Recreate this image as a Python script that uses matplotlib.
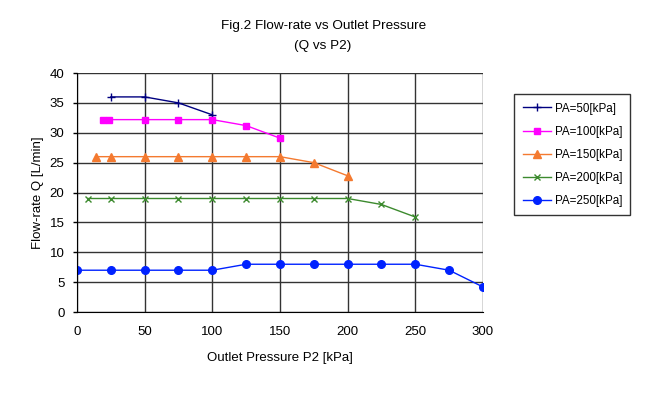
import matplotlib.pyplot as plt

plt.rcParams['font.family'] = ['Liberation Sans', 'DejaVu Sans']

### Data
x_pa50 = [25, 50, 75, 100]
q_pa50 = [36, 36, 35, 33]

x_pa100 = [19, 24, 50, 75, 100, 125, 150]
q_pa100 = [32.2, 32.2, 32.2, 32.2, 32.2, 31.2, 29.1]

x_pa150 = [14, 25, 50, 75, 100, 125, 150, 175, 200]
q_pa150 = [26, 26, 26, 26, 26, 26, 26, 25, 22.8]

x_pa200 = [8, 25, 50, 75, 100, 125, 150, 175, 200, 225, 250]
q_pa200 = [19, 19, 19, 19, 19, 19, 19, 19, 19, 18, 15.9]

x_pa250 = [0, 25, 50, 75, 100, 125, 150, 175, 200, 225, 250, 275, 300]
q_pa250 = [7, 7, 7, 7, 7, 8, 8, 8, 8, 8, 8, 7, 4.2]

labels = ['PA=50[kPa]', 'PA=100[kPa]', 'PA=150[kPa]', 'PA=200[kPa]', 'PA=250[kPa]']

### Plot
fig = plt.figure(figsize=(6.54, 3.94), dpi=100)
ax = fig.add_axes([0.1177, 0.208, 0.6208, 0.6067])

ax.plot(x_pa50, q_pa50, color='#000080', marker='+', ms=6, mew=1.0, lw=1.0, label=labels[0])
ax.plot(x_pa100, q_pa100, color='#FF00FF', marker='s', ms=5, lw=1.0, label=labels[1])
ax.plot(x_pa150, q_pa150, color='#F47A30', marker='^', ms=6, lw=1.0, label=labels[2])
ax.plot(x_pa200, q_pa200, color='#3C8A2E', marker='x', ms=4.5, mew=1.0, lw=1.0, label=labels[3])
ax.plot(x_pa250, q_pa250, color='#0022FF', marker='o', ms=5.5, lw=1.0, label=labels[4])

ax.set_xlim(0, 300)
ax.set_ylim(0, 40)
ax.set_xticks(range(0, 301, 50))
ax.set_yticks(range(0, 41, 5))
ax.grid(True, color='#333333', lw=1.0)
ax.set_axisbelow(True)
ax.tick_params(labelsize=9.5, length=3, width=1, colors='black', pad=6)
ax.tick_params(axis='x', length=0, pad=10)
for side in ['top', 'right']:
    ax.spines[side].set_visible(False)
for side in ['left', 'bottom']:
    ax.spines[side].set_color('black')

ax.set_xlabel('Outlet Pressure P2 [kPa]', fontsize=9.5, labelpad=10)
ax.set_ylabel('Flow-rate Q [L/min]', fontsize=9.5, labelpad=4)

fig.text(0.494, 0.935, 'Fig.2 Flow-rate vs Outlet Pressure', ha='center', va='center', fontsize=9.7)
fig.text(0.494, 0.883, '(Q vs P2)', ha='center', va='center', fontsize=9.7)

leg = ax.legend(loc='upper left', bbox_to_anchor=(1.063, 0.935), fontsize=8.4,
                frameon=True, fancybox=False, edgecolor='black', borderpad=0.7,
                labelspacing=0.95, handlelength=2.4, handletextpad=0.35)
leg.get_frame().set_linewidth(1.0)

plt.savefig('out.png', dpi=100)
